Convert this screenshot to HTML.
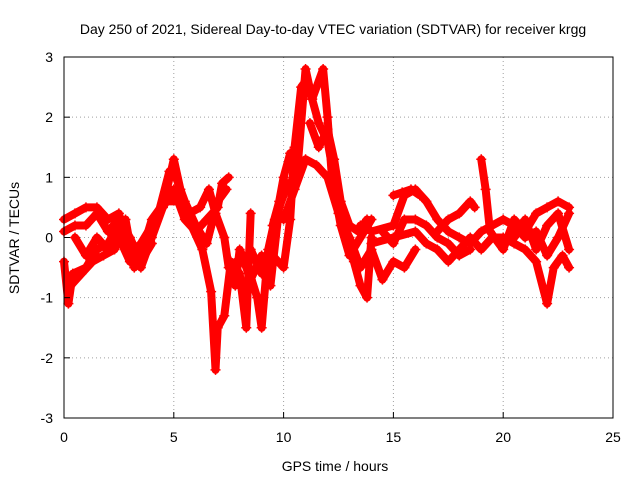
<!DOCTYPE html>
<html><head><meta charset="utf-8"><style>
body{margin:0;background:#fff}
svg{display:block;font-family:"Liberation Sans",sans-serif}
</style></head><body>
<svg id="chart" width="640" height="480" viewBox="0 0 640 480">
<rect x="0" y="0" width="640" height="480" fill="#fff"/>
<text x="333" y="34" font-size="14" text-anchor="middle">Day 250 of 2021, Sidereal Day-to-day VTEC variation (SDTVAR) for receiver krgg</text>
<text x="335" y="471" font-size="14" text-anchor="middle">GPS time / hours</text>
<text transform="translate(19,238) rotate(-90)" font-size="14" text-anchor="middle">SDTVAR / TECUs</text>
<g id="grid"></g><g id="marks"></g><g id="axes"></g>
</svg>
<script>
const xTicks=[0,5,10,15,20,25];
const yTicks=[-3,-2,-1,0,1,2,3];
const track1=[[0,0.3],[0.5,0.4],[1,0.5],[1.5,0.5],[2,0.3],[2.5,0.4],[3,-0.3],[3.5,-0.1],[4,0.2],[4.5,0.5],[5,0.8],[5.5,0.3],[6,0.1],[6.5,0.3],[7,0.5],[7.2,0.9],[7.5,1.0]];
const track2=[[0,-0.4],[0.2,-1.1],[0.4,-0.6],[1,-0.5],[1.5,-0.2],[2,-0.1],[2.5,0.2],[3,-0.2],[3.5,-0.5],[4,0],[4.5,0.5],[5,1.3],[5.3,0.8],[5.8,0.2],[6.3,-0.2],[6.7,-0.9],[6.9,-2.2],[7,-1.5],[7.3,-1.3],[7.6,-0.4],[8,-0.6],[8.3,-1.5],[8.5,0.4]];
const track3=[[0.5,0],[1,-0.3],[1.5,0],[2,-0.2],[2.5,0],[3,-0.4],[3.5,-0.3],[4,0.3],[4.6,0.6],[5.2,0.6],[5.7,0.4],[6.2,0.5],[6.6,0.8],[6.9,0.4],[7.3,0],[7.5,-0.5],[8.2,-0.3],[8.8,-1.0],[9,-1.5],[9.3,-0.2],[9.6,0.3]];
const track4=[[8.5,-0.2],[9,-0.6],[9.5,-0.3],[10,-0.5],[10.3,0.3],[10.5,1.5],[10.8,2.5],[11,2.6],[11.3,2.3],[11.6,1.9],[12,1.6],[12.4,0.8],[12.8,0.2],[13.2,-0.4],[13.5,-0.8],[13.8,-1.0],[14,0]];
const track5=[[9.5,0.2],[9.8,0.6],[10,1.0],[10.3,1.4],[10.6,1.0],[11,2.8],[11.3,2.3],[11.8,2.8],[12,2.0],[12.2,1.0],[12.6,0.2],[13,-0.3],[13.5,0],[14,0.3]];
const track6=[[10,0.3],[10.5,0.8],[11,1.3],[11.5,1.2],[12,1.0],[12.5,0.4],[13,0],[13.5,-0.5],[14,-0.2],[14.5,-0.7],[15,-0.4],[15.5,-0.5],[16,-0.2]];
const track7=[[13.5,0.2],[14,0.1],[15,0.2],[15.5,0.7],[16,0.8],[16.5,0.6],[17,0.3],[17.5,0.1],[18,0],[18.5,-0.1],[19,0.1],[19.5,0.2],[20,0.3],[20.5,0.2],[21,0],[21.5,0.1],[22,-0.3],[22.5,0],[23,0.4]];
const track8=[[14,-0.1],[15,0],[16,0.1],[16.5,-0.1],[17,-0.2],[17.5,-0.4],[18,-0.2],[18.5,0],[19,-0.2],[19.5,0],[20,0],[20.5,-0.1],[21,-0.2],[21.5,-0.4],[22,-1.1],[22.3,-0.5],[22.7,-0.3],[23,-0.5]];
const track9=[[17,0.1],[17.5,0.3],[18,0.4],[18.5,0.6],[18.7,0.5]];
const track10=[[19,1.3],[19.2,0.8],[19.4,0.1],[20,-0.2],[20.5,0.3],[21,0.1],[21.5,0.4],[22,0.5],[22.5,0.6],[23,0.5]];
const track11=[[0,0.1],[0.5,0.2],[1,0.2],[1.5,0.4],[2,0.1],[2.5,0.3],[3,0],[3.5,-0.4],[4,-0.1]];
const track12=[[0.3,-0.8],[0.8,-0.6],[1.3,-0.4],[1.8,-0.3],[2.3,-0.2],[2.8,0.3],[3.2,-0.5]];
const track13=[[4.3,0.4],[4.8,1.1],[5.1,1.0],[5.5,0.6],[6,0.2],[6.5,-0.1],[7,0.6],[7.4,0.8]];
const track14=[[7.8,-0.8],[8,-0.2],[8.5,-0.7],[9,-0.3],[9.4,-0.8],[9.8,0.5],[10.2,0.9]];
const track15=[[11.2,1.9],[11.6,1.5],[12,1.8],[12.3,1.3],[12.6,0.6],[13,0.2],[13.4,0.1],[13.8,0.3]];
const track16=[[14.5,0.1],[15,-0.1],[15.5,0.3],[16,0.3],[16.5,0.2],[17,0],[17.5,-0.1],[18,-0.3],[18.5,-0.2]];
const track17=[[20.5,0],[21,0.3],[21.5,-0.2],[22,0.2],[22.5,0.4],[23,-0.2]];
const track18=[[15,0.7],[15.4,0.75],[15.8,0.8],[16.2,0.7]];
const tracks=[track1,track2,track3,track4,track5,track6,track7,track8,track9,track10,track11,track12,track13,track14,track15,track16,track17,track18];

const L=64,R=613,T=57,B=418;
const xs=v=>L+(v-0)/(25-0)*(R-L);
const ys=v=>B-(v+3)/6*(B-T);
const NS='http://www.w3.org/2000/svg';
function mk(tag,attrs,parent){const e=document.createElementNS(NS,tag);for(const k in attrs)e.setAttribute(k,attrs[k]);parent.appendChild(e);return e;}
const grid=document.getElementById('grid'),marks=document.getElementById('marks'),axes=document.getElementById('axes');
xTicks.forEach(t=>{
  const x=xs(t);
  if(t>0&&t<25){const g=mk('line',{x1:x,x2:x,y1:T,y2:B,stroke:'#a0a0a0','stroke-dasharray':'1,3'},grid);
  
  }
  const tk=mk('line',{x1:x,x2:x,y1:B,y2:B-6,stroke:'#000'},axes);
  
  
  const lb=mk('text',{x:x,y:442,'font-size':14,'text-anchor':'middle'},axes);lb.textContent=t;
  
  
});
yTicks.forEach(t=>{
  const y=ys(t);
  if(t>-3&&t<3){const g=mk('line',{x1:L,x2:R,y1:y,y2:y,stroke:'#a0a0a0','stroke-dasharray':'1,3'},grid);
  
  }
  const tk=mk('line',{x1:L,x2:L+6,y1:y,y2:y,stroke:'#000'},axes);
  
  
  const lb=mk('text',{x:53,y:y+5,'font-size':14,'text-anchor':'end'},axes);lb.textContent=t;
  
  
});
const fr=mk('rect',{x:L,y:T,width:R-L,height:B-T,fill:'none',stroke:'#000'},axes);


tracks.forEach((tr,i)=>{
  const pl=mk('polyline',{points:tr.map(p=>xs(p[0])+','+ys(p[1])).join(' '),fill:'none',stroke:'#ff0000','stroke-width':8,'stroke-linejoin':'round','stroke-linecap':'round'},marks);
  
  
  tr.forEach(p=>{
    const x=xs(p[0]),y=ys(p[1]);
    const m=mk('path',{d:`M${x-5},${y}H${x+5}M${x},${y-5}V${y+5}`,stroke:'#ff0000','stroke-width':1.5},marks);
    
    
  });
});
</script>
</body></html>
